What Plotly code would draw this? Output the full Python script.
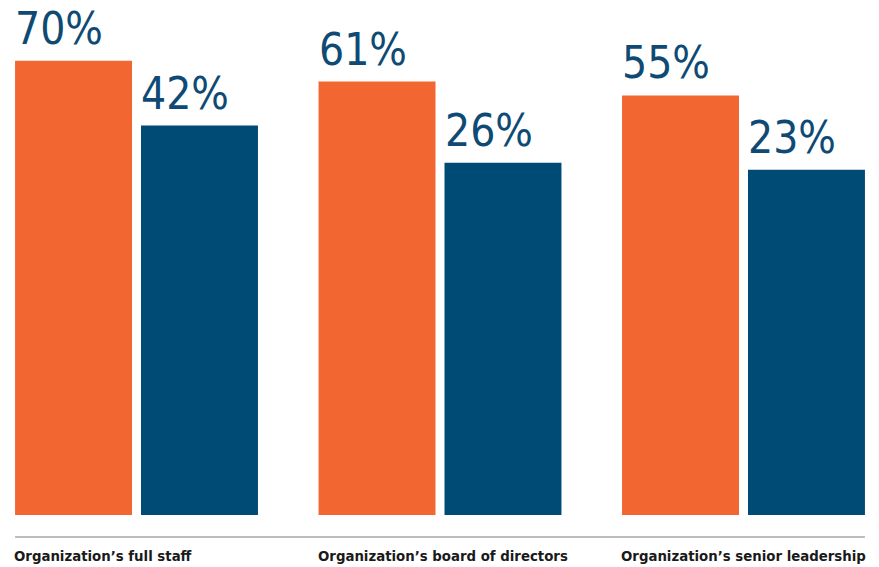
import plotly.graph_objects as go

categories = ["Organization’s full staff", "Organization’s board of directors", "Organization’s senior leadership"]
series_a = [70, 61, 55]
series_b = [42, 26, 23]
series_names = ["Group A", "Group B"]

ORANGE = "#F26631"
BLUE = "#004A76"
LABEL_BLUE = "#0E4A74"
Y_BASE = -126.0
Y_TOP = 96.2
BARGAP = 0.17
GROUPGAP = 0.0714
PLOT_H = 515

x_idx = list(range(len(categories)))

fig = go.Figure()
for vals, color, name in [(series_a, ORANGE, series_names[0]), (series_b, BLUE, series_names[1])]:
    fig.add_trace(go.Bar(
        x=x_idx, y=[v - Y_BASE for v in vals], base=Y_BASE,
        marker=dict(color=color, line=dict(width=0)), name=name,
        hoverinfo="skip", showlegend=False))

# bar left edges in data units
w = 1 - BARGAP
slot = w / 2
left_a = -w / 2 + slot * GROUPGAP / 2
left_b = left_a + slot

num_font = dict(family="DejaVu Sans Condensed, DejaVu Sans, sans-serif", size=44, color=LABEL_BLUE)
for i in x_idx:
    for vals, off in [(series_a, left_a), (series_b, left_b)]:
        fig.add_annotation(x=i + off, y=vals[i], xref="x", yref="y",
                           text=f"{vals[i]}%", showarrow=False,
                           xanchor="left", yanchor="bottom", yshift=5, xshift=-2,
                           font=num_font)
    fig.add_annotation(x=i + left_a, y=0, xref="x", yref="paper",
                       text=categories[i], showarrow=False,
                       xanchor="left", yanchor="top", yshift=-30, xshift=-3,
                       font=dict(family="DejaVu Sans Condensed, DejaVu Sans, sans-serif",
                                 size=14.8, color="#1a1a1a", weight="bold"))

line_y = -22 / PLOT_H
fig.add_shape(type="line", xref="x", yref="paper",
              x0=left_a, x1=len(categories) - 1 + left_b + slot * (1 - GROUPGAP),
              y0=line_y, y1=line_y,
              line=dict(color="#BDBDBD", width=2))

fig.update_layout(
    width=879, height=567,
    margin=dict(l=0, r=0, t=0, b=567 - PLOT_H),
    barmode="group", bargap=BARGAP, bargroupgap=GROUPGAP,
    plot_bgcolor="white", paper_bgcolor="white",
    xaxis=dict(range=[-0.4498, 2.4465], showticklabels=False, showgrid=False,
               zeroline=False, showline=False, ticks=""),
    yaxis=dict(range=[Y_BASE, Y_TOP], showticklabels=False, showgrid=False,
               zeroline=False, showline=False, ticks=""),
)
fig.write_html("out.html")
